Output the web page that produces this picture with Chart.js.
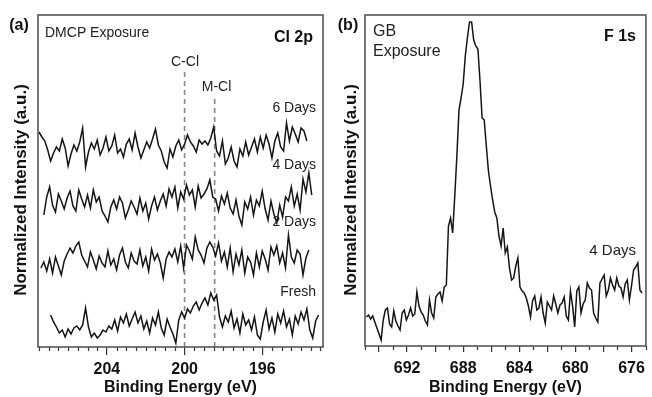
<!DOCTYPE html>
<html>
<head>
<meta charset="utf-8">
<script src="https://cdn.jsdelivr.net/npm/chart.js@4.4.1/dist/chart.umd.min.js"></script>
<style>
  html, body { margin: 0; padding: 0; background: #ffffff; }
  #wrap { position: relative; width: 652px; height: 397px; overflow: hidden; background: #ffffff; }
  #ca { position: absolute; left: 0; top: 0; }
  #cb { position: absolute; left: 330px; top: 0; }
</style>
</head>
<body>
<div id="wrap">
  <canvas id="ca" width="330" height="397"></canvas>
  <canvas id="cb" width="322" height="397"></canvas>
</div>
<script>
// ---------- Panel (a): Cl 2p, DMCP exposure ----------
const clSeriesNames = ['6 Days', '4 Days', '2 Days', 'Fresh'];
const clStartEnergy = [207.5, 207.25, 207.4, 206.9];   // eV, first point of each scan
const clStep = 0.15;                                   // eV between points
const cl6Days = [
  215, 210, 206, 197, 186, 194, 200, 196, 208, 199,
  181, 193, 202, 196, 205, 219, 180, 195, 204, 198,
  207, 192, 199, 210, 196, 201, 212, 194, 198, 190,
  203, 208, 197, 214, 200, 189, 197, 205, 199, 208,
  218, 202, 196, 185, 179, 198, 190, 201, 207, 197,
  203, 212, 205, 201, 195, 207, 203, 206, 202, 209,
  220, 196, 191, 206, 183, 189, 200, 186, 180, 198,
  191, 205, 192, 200, 208, 195, 210, 199, 212, 203,
  189, 206, 214, 200, 196, 224, 206, 220, 213, 205,
  219, 216, 206
];
const cl4Days = [
  132, 150, 160, 142, 135, 153, 146, 138, 149, 156,
  141, 136, 157, 148, 140, 152, 139, 157, 145, 150,
  136, 131, 125, 140, 147, 138, 150, 144, 129, 137,
  146, 140, 133, 149, 136, 144, 128, 141, 150, 137,
  146, 153, 141, 158, 150, 160, 139, 155, 148, 162,
  152, 157, 140, 161, 149, 153, 158, 167, 150, 148,
  136, 151, 143, 154, 139, 133, 147, 131, 122, 145,
  138, 150, 132, 147, 141, 156, 138, 127, 146, 133,
  124, 142, 130, 150, 146, 160, 141, 153, 137, 168,
  155, 174, 152
];
const cl2Days = [
  79, 85, 76, 88, 74, 90, 81, 72, 86, 93,
  99, 94, 101, 105, 92, 86, 80, 95, 87, 78,
  91, 84, 80, 96, 82, 88, 77, 92, 99, 85,
  79, 94, 86, 83, 97, 81, 90, 76, 98, 87,
  93, 84, 69, 88, 95, 90, 98, 85, 101, 79,
  102, 96, 88, 110, 97, 92, 84, 99, 105, 100,
  91, 104, 86, 95, 80, 99, 75, 93, 82, 97,
  74, 90, 85, 72, 94, 80, 96, 88, 77, 100,
  92, 101, 84, 94, 79, 112, 90, 84, 97, 93,
  72, 89, 97
];
const clFresh = [
  32, 25, 20, 14, 17, 10, 18, 13, 19, 21,
  17, 22, 39, 20, 10, 14, 9, 12, 17, 15,
  21, 18, 27, 16, 30, 24, 33, 21, 28, 35,
  24, 31, 18, 26, 14, 29, 22, 35, 19, 12,
  28, 20, 13, 4, 27, 35, 29, 38, 34, 41,
  45, 37, 44, 49, 42, 54, 47, 52, 30, 20,
  31, 25, 36, 19, 28, 14, 33, 22, 27, 17,
  30, 12, 8, 25, 37, 18, 29, 15, 33, 24,
  36, 20, 28, 12, 31, 23, 35, 27, 38, 17,
  9, 26, 32
];
const clPeakNames = ['C-Cl', 'M-Cl'];
const clPeakEnergy = [200.0, 198.45];
const clPeakTop = [275, 250];
const clTickLabels = [196, 200, 204];

// ---------- Panel (b): F 1s, GB exposure ----------
const fStartEnergy = 694.9;
const fStep = 0.15;
const f4Days = [
  29, 31, 27, 30, 24, 18, 12, 6, 26, 36,
  38, 22, 19, 35, 25, 20, 16, 33, 36, 26,
  31, 38, 30, 32, 54, 40, 34, 31, 25, 21,
  46, 33, 28, 49, 52, 54, 45, 59, 61, 120,
  128, 113, 150, 190, 236, 248, 262, 290, 308, 324,
  324, 306, 300, 297, 265, 228, 226, 200, 175, 160,
  146, 134, 128, 110, 100, 118, 93, 99, 78, 66,
  68, 80, 88, 59, 55, 53, 48, 40, 29, 45,
  50, 36, 38, 49, 33, 23, 44, 40, 36, 50,
  42, 33, 41, 43, 49, 30, 26, 55, 40, 19,
  55, 59, 33, 42, 46, 63, 58, 56, 33, 28,
  24, 63, 67, 71, 50, 56, 68, 61, 56, 68,
  60, 58, 49, 62, 66, 46, 60, 76, 79, 83,
  56, 53
];
const fTickLabels = [676, 680, 684, 688, 692];

// ---------- helpers ----------
function toPoints(values, start, step) {
  return values.map((v, i) => ({ x: +(start - i * step).toFixed(3), y: v }));
}

const FONT = "'Liberation Sans', Arial, Helvetica, sans-serif";

const decorPlugin = {
  id: 'decor',
  afterDraw(chart, args, o) {
    const ctx = chart.ctx;
    const a = chart.chartArea;
    const xs = chart.scales.x;
    ctx.save();
    // minor ticks
    ctx.strokeStyle = '#333';
    ctx.lineWidth = 1.2;
    const n0 = Math.ceil(xs.min / o.minorStep - 1e-9);
    const n1 = Math.floor(xs.max / o.minorStep + 1e-9);
    for (let n = n0; n <= n1; n++) {
      const v = n * o.minorStep;
      const r = v / o.majorStep;
      if (Math.abs(r - Math.round(r)) < 1e-6) continue;
      const px = Math.round(xs.getPixelForValue(v)) + 0.5;
      ctx.beginPath();
      ctx.moveTo(px, a.bottom);
      ctx.lineTo(px, a.bottom + o.minorLen);
      ctx.stroke();
    }
    // frame
    ctx.strokeStyle = '#555';
    ctx.lineWidth = 1.6;
    ctx.strokeRect(a.left, a.top, a.right - a.left, a.bottom - a.top);
    // texts
    for (const t of o.texts) {
      ctx.font = t.font;
      ctx.fillStyle = t.color || '#222';
      ctx.textAlign = t.align || 'left';
      ctx.textBaseline = 'middle';
      ctx.fillText(t.text, t.x, t.y);
    }
    // y title
    ctx.save();
    ctx.translate(o.yTitle.x, o.yTitle.y);
    ctx.rotate(-Math.PI / 2);
    ctx.font = 'bold 17px ' + FONT;
    ctx.fillStyle = '#111';
    ctx.textAlign = 'center';
    ctx.textBaseline = 'middle';
    ctx.fillText(o.yTitle.text, 0, 0);
    ctx.restore();
    ctx.restore();
  }
};

function lineDs(label, data) {
  return {
    label, data,
    borderColor: '#151515', borderWidth: 1.5,
    pointRadius: 0, tension: 0, fill: false
  };
}

// ---------- chart (a) ----------
const clSeries = [cl6Days, cl4Days, cl2Days, clFresh];
const dsA = clSeries.map((vals, k) => lineDs(clSeriesNames[k], toPoints(vals, clStartEnergy[k], clStep)));
clPeakEnergy.forEach((e, k) => {
  dsA.push({
    label: clPeakNames[k],
    data: [{ x: e, y: 0 }, { x: e, y: clPeakTop[k] }],
    borderColor: '#888', borderWidth: 1.6, borderDash: [5, 4],
    pointRadius: 0, fill: false
  });
});

new Chart(document.getElementById('ca'), {
  type: 'line',
  data: { datasets: dsA },
  plugins: [decorPlugin],
  options: {
    responsive: false, animation: false,
    layout: { padding: { left: 38, top: 15, right: 7, bottom: 0 } },
    plugins: {
      legend: { display: false }, tooltip: { enabled: false },
      decor: {
        minorStep: 0.5, majorStep: 4, minorLen: 4,
        yTitle: { text: 'Normalized Intensity (a.u.)', x: 21, y: 190 },
        texts: [
          { text: '(a)', x: 19, y: 26, font: 'bold 16px ' + FONT, align: 'center', color: '#111' },
          { text: 'DMCP Exposure', x: 45, y: 33, font: '14px ' + FONT },
          { text: 'Cl 2p', x: 313, y: 38, font: 'bold 16px ' + FONT, align: 'right', color: '#111' },
          { text: clPeakNames[0], x: 185, y: 62, font: '14px ' + FONT, align: 'center' },
          { text: clPeakNames[1], x: 216.5, y: 87, font: '14px ' + FONT, align: 'center' },
          { text: clSeriesNames[0], x: 316, y: 108, font: '14px ' + FONT, align: 'right' },
          { text: clSeriesNames[1], x: 316, y: 165, font: '14px ' + FONT, align: 'right' },
          { text: clSeriesNames[2], x: 316, y: 222, font: '14px ' + FONT, align: 'right' },
          { text: clSeriesNames[3], x: 316, y: 292, font: '14px ' + FONT, align: 'right' }
        ]
      }
    },
    scales: {
      x: {
        type: 'linear', reverse: true, min: 192.87, max: 207.55,
        afterFit(s) { s.height = 50; },
        border: { display: false },
        grid: { display: true, drawOnChartArea: false, drawTicks: true, tickLength: 8, color: '#333', lineWidth: 1.2 },
        ticks: {
          stepSize: 4, includeBounds: false, autoSkip: false, maxRotation: 0, padding: 5,
          color: '#111', font: { family: FONT, size: 16, weight: 'bold' },
          callback: (v) => clTickLabels.includes(v) ? String(v) : ''
        },
        title: { display: true, text: 'Binding Energy (eV)', color: '#111', padding: { top: 0, bottom: 0 },
          font: { family: FONT, size: 16, weight: 'bold' } }
      },
      y: { type: 'linear', display: false, min: 0, max: 332 }
    }
  }
});

// ---------- chart (b) ----------
new Chart(document.getElementById('cb'), {
  type: 'line',
  data: { datasets: [lineDs('4 Days', toPoints(f4Days, fStartEnergy, fStep))] },
  plugins: [decorPlugin],
  options: {
    responsive: false, animation: false,
    layout: { padding: { left: 35, top: 15, right: 3, bottom: 0 } },
    plugins: {
      legend: { display: false }, tooltip: { enabled: false },
      decor: {
        minorStep: 1, majorStep: 2, minorLen: 4,
        yTitle: { text: 'Normalized Intensity (a.u.)', x: 21, y: 190 },
        texts: [
          { text: '(b)', x: 18, y: 26, font: 'bold 16px ' + FONT, align: 'center', color: '#111' },
          { text: 'GB', x: 43, y: 32, font: '16px ' + FONT },
          { text: 'Exposure', x: 43, y: 52, font: '16px ' + FONT },
          { text: 'F 1s', x: 306, y: 37, font: 'bold 16px ' + FONT, align: 'right', color: '#111' },
          { text: '4 Days', x: 306, y: 251, font: '15px ' + FONT, align: 'right' }
        ]
      }
    },
    scales: {
      x: {
        type: 'linear', reverse: true, min: 674.97, max: 695.0,
        afterFit(s) { s.height = 51; },
        border: { display: false },
        grid: { display: true, drawOnChartArea: false, drawTicks: true, tickLength: 6, color: '#333', lineWidth: 1.2 },
        ticks: {
          stepSize: 2, includeBounds: false, autoSkip: false, maxRotation: 0, padding: 7,
          color: '#111', font: { family: FONT, size: 16, weight: 'bold' },
          callback: (v) => fTickLabels.includes(v) ? String(v) : ''
        },
        title: { display: true, text: 'Binding Energy (eV)', color: '#111', padding: { top: 0, bottom: 0 },
          font: { family: FONT, size: 16, weight: 'bold' } }
      },
      y: { type: 'linear', display: false, min: 0, max: 331 }
    }
  }
});
</script>
</body>
</html>
